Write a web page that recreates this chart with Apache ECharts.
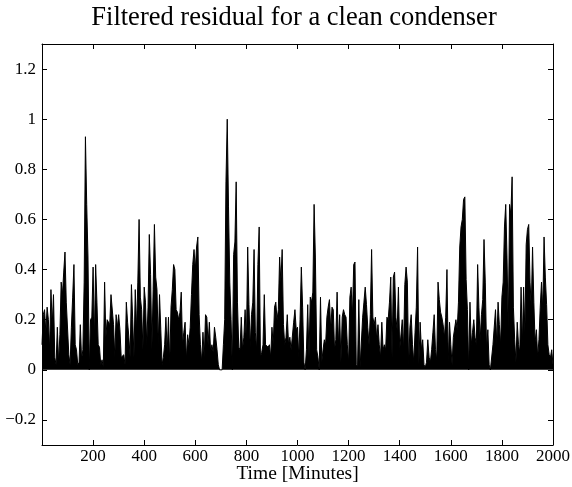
<!DOCTYPE html>
<html>
<head>
<meta charset="utf-8">
<script src="https://cdn.jsdelivr.net/npm/echarts@6/dist/echarts.min.js"></script>
<style>
  html, body { margin: 0; padding: 0; background: #fff; }
  #chart { width: 572px; height: 487px; }
</style>
</head>
<body>
<div id="chart"></div>
<script>
// residual samples, one every 5 minutes
const stepMinutes = 5;
const residual0to325 = [
  0.1, 0.22, 0.24, 0.15, 0.25, 0.2, 0.08, 0.32, 0.18, 0.3,
  0.05, 0.02, 0.17, 0.03, 0.14, 0.35, 0.3, 0.39, 0.47, 0.27,
  0.27, 0.06, 0.02, 0.17, 0.29, 0.42, 0.1, 0.08, 0.02, 0.03,
  0.18, 0.04, 0.08, 0.35, 0.93, 0.66, 0.45, 0, 0.2, 0.21,
  0.41, 0.12, 0.42, 0.27, 0.1, 0.09, 0.02, 0.04, 0.01, 0.35,
  0.13, 0.2, 0.2, 0.18, 0.3, 0.3, 0.18, 0.05, 0.22, 0.17,
  0.22, 0.16, 0.05, 0.05, 0.06, 0.02
];
const residual330to660 = [
  0.27, 0.19, 0.13, 0.05, 0.34, 0.2, 0.05, 0.32, 0.16, 0.35,
  0.6, 0.29, 0.24, 0.08, 0.33, 0.27, 0.1, 0.25, 0.54, 0.38,
  0.08, 0.32, 0.58, 0.37, 0.32, 0.1, 0.3, 0.16, 0.02, 0.05,
  0.1, 0.21, 0.07, 0.21, 0.02, 0.25, 0.32, 0.42, 0.4, 0.24,
  0.23, 0.2, 0.23, 0.31, 0.1, 0.15, 0.19, 0.04, 0.14, 0.1,
  0.17, 0.3, 0.42, 0.48, 0.4, 0.49, 0.53, 0.22, 0.1, 0.03,
  0.15, 0.05, 0.22, 0.21, 0.1, 0.19, 0.07
];
const residual665to995 = [
  0.1, 0.07, 0.17, 0.13, 0.08, 0.02, 0, 0, 0, 0.1,
  0.2, 0.75, 1.0, 0.65, 0.35, 0.2, 0, 0.46, 0.51, 0.75,
  0.27, 0.09, 0.08, 0.21, 0.08, 0.13, 0.24, 0.1, 0.49, 0.26,
  0.09, 0.22, 0.27, 0.48, 0.15, 0.08, 0.42, 0.57, 0.05, 0.07,
  0.1, 0.3, 0.1, 0.1, 0.09, 0.1, 0.05, 0.17, 0.1, 0.25,
  0.27, 0.2, 0.24, 0.45, 0.35, 0.48, 0.18, 0.1, 0.13, 0.22,
  0.1, 0.13, 0.08, 0.08, 0.19, 0.24, 0.16
];
const residual1000to1335 = [
  0.17, 0.05, 0.2, 0.41, 0.25, 0.03, 0, 0.08, 0.26, 0.05,
  0.29, 0.27, 0.31, 0.66, 0.45, 0.08, 0.05, 0, 0.29, 0.03,
  0.08, 0.12, 0.1, 0.21, 0.25, 0.28, 0.16, 0.25, 0.24, 0.08,
  0.12, 0.31, 0.1, 0.22, 0.03, 0.21, 0.24, 0.22, 0.21, 0.1,
  0.03, 0.29, 0.33, 0.21, 0.42, 0.43, 0.02, 0.01, 0.28, 0.01,
  0.01, 0.21, 0.27, 0.33, 0.26, 0.17, 0.1, 0.22, 0.48, 0.21,
  0.18, 0.21, 0.12, 0.18, 0.1, 0.05, 0.19, 0.08
];
const residual1340to1670 = [
  0.1, 0.08, 0.21, 0.2, 0.27, 0.37, 0.05, 0.37, 0.39, 0.21,
  0.16, 0.33, 0.08, 0.08, 0.2, 0.08, 0.34, 0.41, 0.35, 0.01,
  0.17, 0.22, 0.1, 0.03, 0.15, 0.25, 0.49, 0.02, 0.19, 0.08,
  0.12, 0.02, 0.01, 0.03, 0.12, 0.05, 0.03, 0.08, 0.15, 0.22,
  0.08, 0.04, 0.35, 0.28, 0.23, 0.21, 0.18, 0.13, 0.21, 0.4,
  0.03, 0.19, 0.1, 0.02, 0.13, 0.13, 0.2, 0.16, 0.27, 0.49,
  0.57, 0.6, 0.68, 0.69, 0.36, 0.24, 0
];
const residual1675to2000 = [
  0.27, 0.1, 0.15, 0.2, 0.13, 0.1, 0.42, 0.25, 0.12, 0.22,
  0.28, 0.52, 0.35, 0.08, 0.16, 0.02, 0, 0, 0.1, 0.1,
  0.24, 0.1, 0.27, 0.18, 0.1, 0.29, 0.35, 0.57, 0.66, 0.45,
  0.16, 0.66, 0.62, 0.77, 0.25, 0.12, 0.03, 0.19, 0.1, 0.07,
  0.33, 0.1, 0.33, 0.15, 0.5, 0.56, 0.58, 0.35, 0.25, 0.49,
  0.27, 0.11, 0.16, 0.05, 0.12, 0.25, 0.35, 0.24, 0.53, 0.37,
  0.26, 0.1, 0.06, 0.05, 0.08, 0.02
];
const xTicks = [200, 400, 600, 800, 1000, 1200, 1400, 1600, 1800, 2000];
const yTicks = [-0.2, 0, 0.2, 0.4, 0.6, 0.8, 1, 1.2];

const residual = [].concat(residual0to325, residual330to660, residual665to995,
  residual1000to1335, residual1340to1670, residual1675to2000);
const points = residual.map((v, i) => [i * stepMinutes, v]);

const serif = 'Liberation Serif';
const chart = echarts.init(document.getElementById('chart'), null, { renderer: 'canvas' });

function xAxisCfg(pos, withLabels) {
  return {
    type: 'value', position: pos, min: 0, max: 2000,
    axisLine: { show: true, onZero: false, lineStyle: { color: '#000', width: 1 } },
    axisTick: { show: true, inside: true, length: 5, customValues: xTicks, lineStyle: { color: '#000' } },
    axisLabel: withLabels ? {
      show: true, customValues: xTicks, color: '#000', fontFamily: serif, fontSize: 17, margin: 3,
      formatter: v => String(v)
    } : { show: false },
    splitLine: { show: false },
    name: withLabels ? 'Time [Minutes]' : '',
    nameLocation: 'middle', nameGap: 19, nameMoveOverlap: false,
    nameTextStyle: { color: '#000', fontFamily: serif, fontSize: 19.5 }
  };
}
function yAxisCfg(pos, withLabels) {
  return {
    type: 'value', position: pos, min: -0.3, max: 1.3,
    axisLine: { show: true, onZero: false, lineStyle: { color: '#000', width: 1 } },
    axisTick: { show: true, inside: true, length: 5, customValues: yTicks, lineStyle: { color: '#000' } },
    axisLabel: withLabels ? {
      show: true, customValues: yTicks, color: '#000', fontFamily: serif, fontSize: 17, margin: 6,
      formatter: v => (v < 0 ? '\u2212' + String(-v) : String(Math.round(v * 10) / 10))
    } : { show: false },
    splitLine: { show: false }
  };
}

chart.setOption({
  animation: false,
  backgroundColor: '#fff',
  title: {
    text: 'Filtered residual for a clean condenser',
    left: 289, textAlign: 'center', top: 0,
    textStyle: { color: '#000', fontFamily: serif, fontSize: 26.5, fontWeight: 'normal' }
  },
  grid: { left: 42, right: 19, top: 44, bottom: 42, containLabel: false, outerBoundsMode: 'none' },
  xAxis: [xAxisCfg('bottom', true), xAxisCfg('top', false)],
  yAxis: [yAxisCfg('left', true), yAxisCfg('right', false)],
  series: [{
    type: 'line',
    data: points,
    showSymbol: false,
    sampling: null,
    lineStyle: { color: '#000', width: 1 },
    // the per-minute trace is so dense that it reads as a filled mass down to zero
    areaStyle: { color: '#000', opacity: 1, origin: 0 },
    silent: true
  }]
});
</script>
</body>
</html>
